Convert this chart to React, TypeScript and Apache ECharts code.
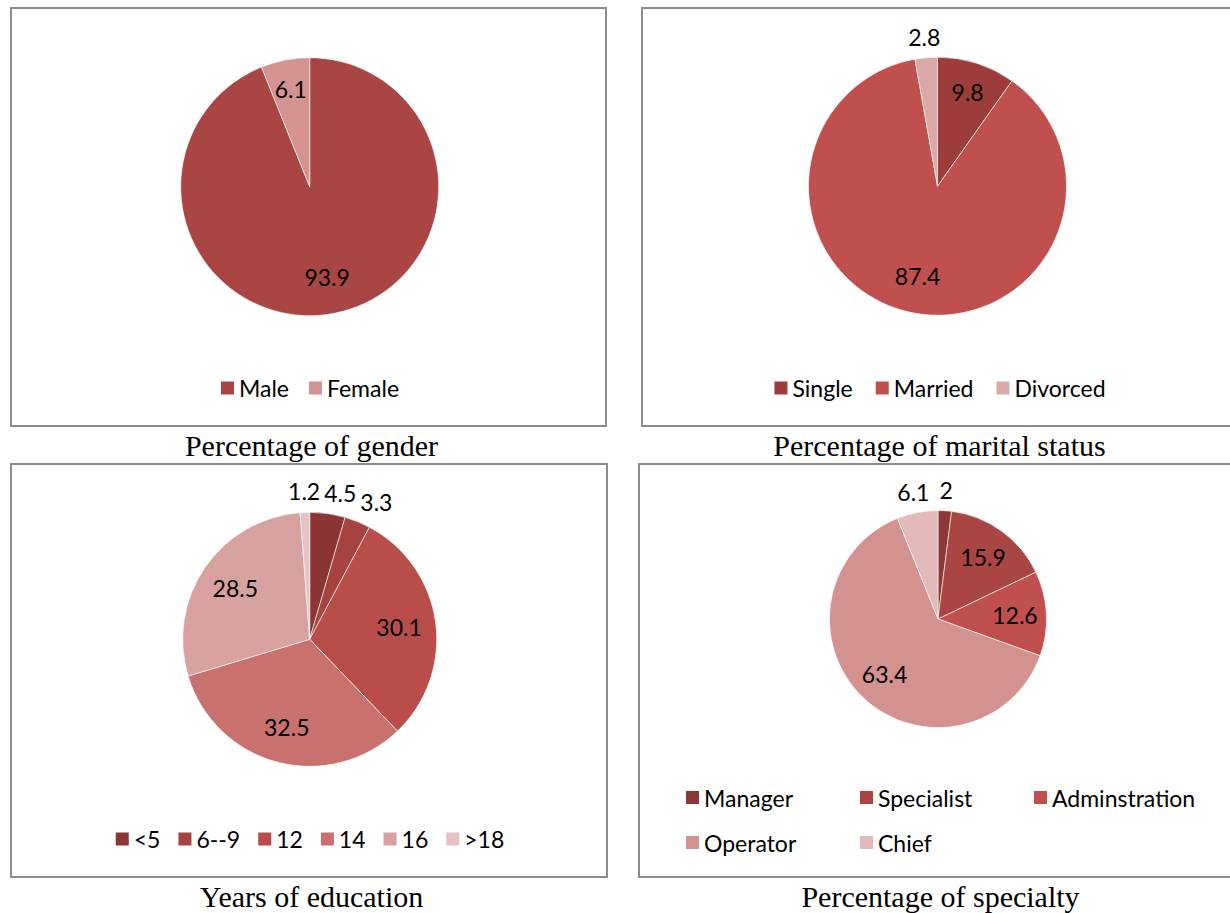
import React, { useEffect, useRef } from "react";
import * as echarts from "echarts";

// ---------- data ----------
const genderNames = ["Male", "Female"];
const genderValues = [93.9, 6.1];
const maritalNames = ["Single", "Married", "Divorced"];
const maritalValues = [9.8, 87.4, 2.8];
const educationNames = ["<5", "6--9", "12", "14", "16", ">18"];
const educationValues = [4.5, 3.3, 30.1, 32.5, 28.5, 1.2];
const specialtyNames = ["Manager", "Specialist", "Adminstration", "Operator", "Chief"];
const specialtyValues = [2, 15.9, 12.6, 63.4, 6.1];

const chartTitles = [
  "Percentage of gender",
  "Percentage of marital status",
  "Years of education",
  "Percentage of specialty",
];

// label placement tiers: "mid" inside, "rim" inside near the edge, "out" outside
const genderPlace = ["mid", "rim"];
const maritalPlace = ["rim", "mid", "out"];
const educationPlace = ["out", "out", "mid", "mid", "mid", "out"];
const specialtyPlace = ["out", "mid", "mid", "mid", "out"];

// ---------- styles ----------
const genderColors = ["#A94644", "#D49391"];
const maritalColors = ["#9C3D3B", "#C0504D", "#D9A8A7"];
const educationColors = ["#8B3634", "#A64340", "#B94D4A", "#C8716F", "#D7A1A0", "#E6C3C3"];
const specialtyColors = ["#8C3836", "#A94543", "#C0504D", "#D39190", "#E1BAB9"];

const SANS = "Lato";
const SERIF = '"Liberation Serif", "Times New Roman", serif';

type Panel = {
  names: string[];
  values: number[];
  colors: string[];
  place: string[];
  title: string;
  box: { left: number; top: number; width: number; height: number };
  border: [number, number, number, number];
  center: [number, number];
  r: number;
  legendTop: number;
  legendLeft: number | string;
  legendWidth?: number;
  legendTextWidth?: number;
  legendGap: number;
  titleX: number;
  titleY: number;
};

const panels: Panel[] = [
  {
    names: genderNames, values: genderValues, colors: genderColors, place: genderPlace,
    title: chartTitles[0],
    box: { left: 0, top: 0, width: 620, height: 464 },
    border: [11, 8, 606, 426],
    center: [309.7, 186.7], r: 129,
    legendTop: 376.5, legendLeft: "center", legendGap: 20,
    titleX: 311.5, titleY: 445,
  },
  {
    names: maritalNames, values: maritalValues, colors: maritalColors, place: maritalPlace,
    title: chartTitles[1],
    box: { left: 625, top: 0, width: 630, height: 464 },
    border: [17, 8, 612, 426],
    center: [312.5, 186.2], r: 129,
    legendTop: 376.5, legendLeft: "center", legendGap: 23,
    titleX: 314.5, titleY: 445,
  },
  {
    names: educationNames, values: educationValues, colors: educationColors, place: educationPlace,
    title: chartTitles[2],
    box: { left: 0, top: 460, width: 620, height: 453 },
    border: [11, 4, 607, 417],
    center: [309.7, 179.3], r: 127,
    legendTop: 367.5, legendLeft: "center", legendGap: 18,
    titleX: 311.5, titleY: 436,
  },
  {
    names: specialtyNames, values: specialtyValues, colors: specialtyColors, place: specialtyPlace,
    title: chartTitles[3],
    box: { left: 625, top: 460, width: 630, height: 453 },
    border: [14, 4, 615, 417],
    center: [313, 159], r: 108.5,
    legendTop: 326, legendLeft: 61, legendWidth: 520, legendTextWidth: 134, legendGap: 22,
    titleX: 315.5, titleY: 436,
  },
];

function buildOption(p: Panel): any {
  const mainData = p.names.map((n, i) => ({
    name: n,
    value: p.values[i],
    itemStyle: { color: p.colors[i] },
  }));
  const tiers: Record<string, number> = { mid: 0.71 * p.r, rim: 0.77 * p.r, out: p.r + 21 };
  const labelSeries = Object.keys(tiers).map((tier) => ({
    type: "pie",
    name: "labels-" + tier,
    center: p.center,
    radius: [0, 2 * (tiers[tier] - 3)],
    startAngle: 90,
    clockwise: true,
    silent: true,
    z: 5,
    itemStyle: { color: "rgba(0,0,0,0)", borderWidth: 0 },
    label: {
      show: true,
      position: "inside",
      color: "#000",
      fontFamily: SANS,
      fontSize: 23,
      formatter: "{c}",
      ...(tier === "out"
        ? { padding: [0, 2], backgroundColor: "rgba(255,255,255,0)" }
        : {}),
    },
    labelLine: { show: false },
    labelLayout: tier === "out" ? { moveOverlap: "shiftX" } : undefined,
    emphasis: { disabled: true },
    data: p.names.map((n, i) => ({
      name: n,
      value: p.values[i],
      label: { show: p.place[i] === tier },
    })),
  }));

  const legend: any = {
    data: p.names,
    selectedMode: false,
    icon: "rect",
    itemWidth: 13,
    itemHeight: 13,
    itemGap: p.legendGap,
    padding: 0,
    top: p.legendTop,
    left: p.legendLeft,
    itemStyle: { borderWidth: 0 },
    textStyle: {
      fontFamily: SANS,
      fontSize: 23,
      lineHeight: 23,
      color: "#000",
      ...(p.legendTextWidth ? { width: p.legendTextWidth, overflow: "none" } : {}),
    },
  };
  if (p.legendWidth) legend.width = p.legendWidth;

  const [x1, y1, x2, y2] = p.border;
  return {
    animation: false,
    backgroundColor: "transparent",
    legend,
    tooltip: { show: false },
    graphic: [
      {
        type: "rect",
        shape: { x: x1, y: y1, width: x2 - x1, height: y2 - y1 },
        style: { fill: "none", stroke: "#8c8c8c", lineWidth: 2 },
        silent: true,
        z: 0,
      },
      {
        type: "text",
        x: p.titleX,
        y: p.titleY,
        silent: true,
        style: {
          text: p.title,
          fill: "#000",
          font: "30px " + SERIF,
          align: "center",
          verticalAlign: "middle",
        },
      },
    ],
    series: [
      {
        type: "pie",
        name: "main",
        center: p.center,
        radius: [0, p.r],
        startAngle: 90,
        clockwise: true,
        silent: true,
        z: 2,
        itemStyle: { borderColor: "rgba(255,255,255,0.75)", borderWidth: 0.8 },
        label: { show: false },
        labelLine: { show: false },
        emphasis: { disabled: true },
        data: mainData,
      },
      ...labelSeries,
    ],
  };
}

function PieChart({ panel }: { panel: Panel }) {
  const ref = useRef<HTMLDivElement>(null);
  useEffect(() => {
    if (!ref.current) return;
    const chart = echarts.init(ref.current, null, { renderer: "svg" });
    chart.setOption(buildOption(panel));
    return () => chart.dispose();
  }, [panel]);
  return (
    <div
      ref={ref}
      style={{
        position: "absolute",
        left: panel.box.left,
        top: panel.box.top,
        width: panel.box.width,
        height: panel.box.height,
      }}
    />
  );
}

export default function App() {
  return (
    <div
      style={{
        position: "absolute",
        left: 0,
        top: 0,
        width: 1230,
        height: 913,
        overflow: "hidden",
        background: "#fff",
      }}
    >
      {panels.map((p, i) => (
        <PieChart key={i} panel={p} />
      ))}
    </div>
  );
}
